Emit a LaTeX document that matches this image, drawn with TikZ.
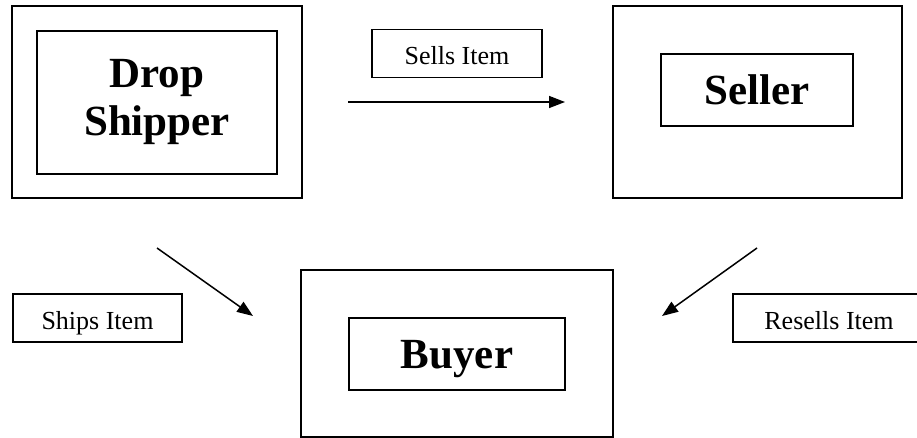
\documentclass[tikz,border=0pt]{standalone}
\usepackage{fontspec}
\setmainfont{Liberation Serif}
\usetikzlibrary{arrows.meta}

\begin{document}
\begin{tikzpicture}[x=1pt, y=-1pt,
                    outer node/.style={draw,line width=1.3pt,inner sep=0pt},
                    main node/.style={draw,line width=1.3pt,inner sep=0pt,align=center,
                                      font=\fontsize{43}{48}\selectfont\bfseries},
                    label node/.style={draw,line width=1.3pt,inner sep=0pt,minimum height=48pt,
                                       text height=23pt,text depth=0pt,font=\fontsize{26}{28}\selectfont},
                    flow/.style={line width=1.5pt,-{Triangle[length=16pt,width=12pt]}}]

  \useasboundingbox (0,0) rectangle (917,438);

  \node[outer node, minimum width=290pt, minimum height=192pt] (shipper box) at (157,102) {};
  \node[main node, minimum width=240pt, minimum height=143pt] (shipper) at (157,102.5) {Drop\\Shipper};
  \node[outer node, minimum width=289pt, minimum height=192pt] (seller box) at (757.5,102) {};
  \node[main node, minimum width=192pt, minimum height=72pt] (seller) at (757,90) {Seller};
  \node[outer node, minimum width=312pt, minimum height=167pt] (buyer box) at (457,353.5) {};
  \node[main node, minimum width=216pt, minimum height=72pt, text depth=0pt] (buyer) at (457,354) {Buyer};

  \node[label node, minimum width=170pt] (sells) at (457,53.5) {Sells Item};
  \node[label node, minimum width=169pt] (ships) at (97.5,318) {Ships Item};
  \node[label node, minimum width=192pt] (resells) at (829,318) {Resells Item};

  \coordinate (sells tail) at (348,102);
  \coordinate (sells head) at (565,102);
  \coordinate (ships tail) at (157,248);
  \coordinate (ships head) at (253,316);
  \coordinate (resells tail) at (757,248);
  \coordinate (resells head) at (662,316);

  \draw[flow] (sells tail) -- (sells head);
  \draw[flow] (ships tail) -- (ships head);
  \draw[flow] (resells tail) -- (resells head);
\end{tikzpicture}
\end{document}
